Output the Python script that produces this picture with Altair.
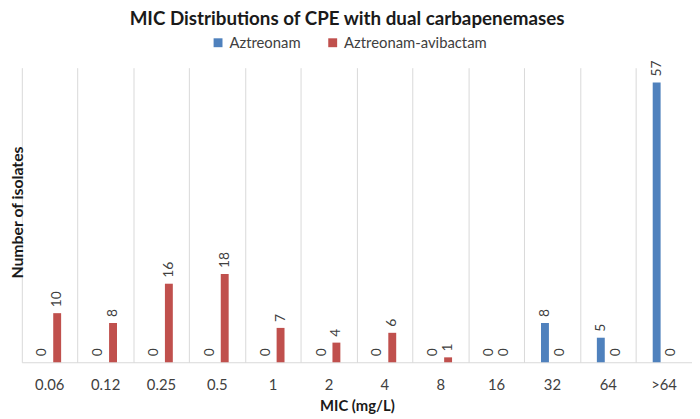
import altair as alt
import pandas as pd

categories = ["0.06", "0.12", "0.25", "0.5", "1", "2", "4", "8", "16", "32", "64", ">64"]
series = ["Aztreonam", "Aztreonam-avibactam"]
aztreonam = [0, 0, 0, 0, 0, 0, 0, 0, 0, 8, 5, 57]
aztreonam_avibactam = [10, 8, 16, 18, 7, 4, 6, 1, 0, 0, 0, 0]
colors = ["#4f81bd", "#c0504d"]

rows = []
for i, c in enumerate(categories):
    rows.append({"MIC": c, "Series": series[0], "Count": aztreonam[i]})
    rows.append({"MIC": c, "Series": series[1], "Count": aztreonam_avibactam[i]})
df = pd.DataFrame(rows)

FONT = "Lato"

x = alt.X(
    "MIC:N",
    sort=categories,
    scale=alt.Scale(paddingInner=0, paddingOuter=0),
    axis=alt.Axis(
        title="MIC (mg/L)",
        bandPosition=0,
        grid=True,
        gridColor="#d9d9d9",
        domainColor="#d9d9d9",
        ticks=False,
        labelAngle=0,
        labelPadding=16,
        labelFontSize=15,
        labelColor="#404040",
        labelFont=FONT,
        titleFont=FONT,
        titleFontSize=15,
        titleFontWeight="bold",
        titleColor="#1a1a1a",
        titleBaseline="middle",
        titleY=44,
    ),
)
xo = alt.XOffset(
    "Series:N",
    sort=series,
    scale=alt.Scale(range=[16.75, 39.75], paddingInner=0.467, paddingOuter=0),
)
y = alt.Y(
    "Count:Q",
    scale=alt.Scale(domain=[0, 60], nice=False),
    axis=alt.Axis(
        title="Number of isolates",
        labels=False,
        ticks=False,
        domain=False,
        grid=False,
        titleFont=FONT,
        titleFontSize=16,
        titleFontWeight="bold",
        titleColor="#1a1a1a",
        titleBaseline="middle",
        titleX=-4,
        titleY=146,
        titleAngle=270,
    ),
)
color = alt.Color(
    "Series:N",
    sort=series,
    scale=alt.Scale(domain=series, range=colors),
    legend=alt.Legend(
        title=None,
        orient="none",
        direction="horizontal",
        legendX=191,
        legendY=-33,
        symbolType="square",
        symbolSize=81,
        symbolStrokeWidth=0,
        labelFont=FONT,
        labelFontSize=15,
        labelColor="#404040",
        labelOffset=4,
        columnPadding=24,
    ),
)

bars = alt.Chart(df).mark_bar().encode(x=x, xOffset=xo, y=y, color=color)
labels = alt.Chart(df).mark_text(
    angle=270, align="left", baseline="middle", dx=6, fontSize=14, font=FONT, color="#404040"
).encode(x=x, xOffset=xo, y=y, text="Count:Q")

chart = (
    alt.layer(bars, labels)
    .properties(
        width=678,
        height=298,
        autosize=alt.AutoSizeParams(type="none"),
        padding={"left": 14, "top": 58, "right": 0, "bottom": 55},
        title=alt.TitleParams(
            "MIC Distributions of CPE with dual carbapenemases",
            font=FONT,
            fontSize=19,
            fontWeight="bold",
            color="#1a1a1a",
            anchor="middle",
            frame="group",
            baseline="alphabetic",
            offset=0,
            dy=9,
            dx=-10,
        ),
    )
    .configure_view(stroke=None)
)

chart.save("out.html", embed_options={"renderer": "svg", "actions": False})
